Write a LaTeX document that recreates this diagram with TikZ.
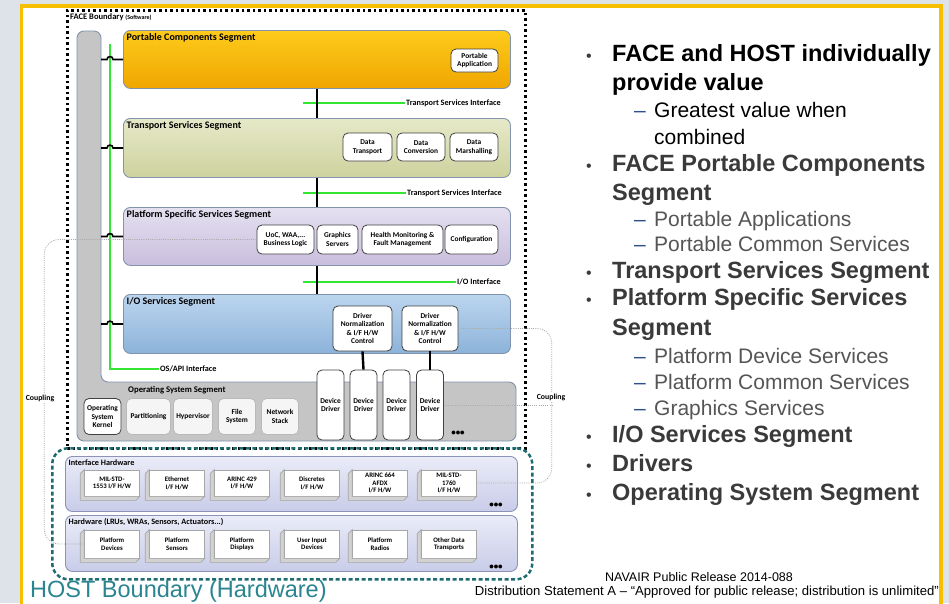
\documentclass[tikz,border=0pt]{standalone}
\usepackage{fontspec}
\setmainfont{Carlito}
\newfontfamily\arialfont{Liberation Sans}
\usetikzlibrary{calc}

\definecolor{bggray}{HTML}{DEE2E9}
\definecolor{frameorange}{HTML}{F6BF00}
\definecolor{segline}{HTML}{8193AE}
\definecolor{pcstop}{HTML}{FDCB1C}
\definecolor{pcsbottom}{HTML}{F0A600}
\definecolor{tsstop}{HTML}{E6E9C8}
\definecolor{tssbottom}{HTML}{CDD29E}
\definecolor{psstop}{HTML}{E5E0F0}
\definecolor{pssbottom}{HTML}{C9BEDD}
\definecolor{iostop}{HTML}{BCD5EF}
\definecolor{iosbottom}{HTML}{8CB3DA}
\definecolor{osgray}{HTML}{C5C5C5}
\definecolor{facegreen}{HTML}{33E633}
\definecolor{hostteal}{HTML}{1E6C70}
\definecolor{hosttext}{HTML}{2A8590}
\definecolor{hwtop}{HTML}{EAECF8}
\definecolor{hwbottom}{HTML}{C8CCE8}
\definecolor{hwline}{HTML}{8D93B8}
\definecolor{itemgray}{HTML}{3A3A3A}
\definecolor{subgray}{HTML}{555555}
\definecolor{dashblue}{HTML}{2F4F8A}

\begin{document}
\begin{tikzpicture}[x = 1pt, y = -1pt,
	seg/.style = {draw = segline, line width = 0.9, rounded corners = 7, anchor = north west, minimum width = 387},
	segtitle/.style = {font = \fontsize{10}{11}\selectfont\bfseries, inner sep = 3.5},
	comp/.style = {draw = black!75, fill = white, rounded corners = 5, line width = 0.8, align = center, inner sep = 0.5, font = \fontsize{7.4}{8.6}\selectfont\bfseries},
	oscomp/.style = {comp, draw = gray!55, fill = gray!8},
	hwbox/.style = {draw = gray!70, fill = white, line width = 0.6, align = center, inner sep = 0.5, minimum width = 55, minimum height = 26, font = \fontsize{6.8}{7.6}\selectfont\bfseries},
	hwside/.style = {draw = gray!70, fill = gray!35, line width = 0.6},
	hwgroup/.style = {draw = hwline, line width = 0.9, rounded corners = 7, anchor = north west, minimum width = 452, top color = hwtop, bottom color = hwbottom},
	iflabel/.style = {font = \fontsize{8.2}{9}\selectfont\bfseries, inner sep = 1, anchor = west},
	greenline/.style = {draw = facegreen, line width = 2},
	ifline/.style = {draw = black, line width = 2.4},
	bridge/.style = {draw = black, line width = 1.6},
	couple/.style = {draw = gray!65, line width = 0.8, dash pattern = on 1pt off 1.2pt},
	couplelbl/.style = {fill = white, inner sep = 1, font = \fontsize{7.8}{8}\selectfont\bfseries},
	moredots/.style = {inner sep = 0, font = \fontsize{9}{9}\selectfont\bfseries},
	mainitem/.style = {anchor = base west, inner sep = 0, font = \arialfont\bfseries\fontsize{23.5}{26}\selectfont},
	subitem/.style = {anchor = base west, inner sep = 0, font = \arialfont\fontsize{21}{24}\selectfont},
	notetext/.style = {inner sep = 0, font = \arialfont\fontsize{12.5}{13}\selectfont}]

	% Page and frame

	\useasboundingbox (0, 0) rectangle (949, 603);
	\fill [bggray] (0, 0) rectangle (949, 603);
	\fill [white] (21.5, 6) rectangle (941, 615);
	\draw [frameorange, line width = 3.5] (21.5, 615) -- (21.5, 6) -- (941, 6) -- (941, 615);

	% FACE boundary

	\node [draw, line width = 2.5, dash pattern = on 2.5pt off 3pt, anchor = north west, minimum width = 458, minimum height = 438] (face) at (66, 9) {};
	\node [anchor = west, inner sep = 1, font = \fontsize{8.5}{9}\selectfont\bfseries] (facelbl) at (69, 17) {FACE Boundary {\fontsize{6}{6}\selectfont(Software)}};

	% Operating system segment (L shape)

	\draw [fill = osgray, draw = segline, line width = 0.9, rounded corners = 7] (77, 31) -- (101, 31) -- (101, 382) -- (516, 382) -- (516, 441) -- (77, 441) -- cycle;
	\node [anchor = west, inner sep = 0, font = \fontsize{8.7}{9}\selectfont\bfseries] (oslbl) at (128, 390) {Operating System Segment};

	% Segments

	\node [seg, minimum height = 58, top color = pcstop, bottom color = pcsbottom, label = {[segtitle, anchor = north west]north west:Portable Components Segment}] (pcs) at (123, 30) {};
	\node [seg, minimum height = 59, top color = tsstop, bottom color = tssbottom, label = {[segtitle, anchor = north west]north west:Transport Services Segment}] (tss) at (123, 118) {};
	\node [seg, minimum height = 58, top color = psstop, bottom color = pssbottom, label = {[segtitle, anchor = north west]north west:Platform Specific Services Segment}] (pss) at (123, 207) {};
	\node [seg, minimum height = 59, top color = iostop, bottom color = iosbottom, label = {[segtitle, anchor = north west]north west:I/O Services Segment}] (ios) at (123, 294) {};

	% Components inside the segments

	\node [comp, minimum width = 47, minimum height = 23] (pa) at (474.5, 60.5) {Portable\\Application};
	\node [comp, minimum width = 49, minimum height = 28] (dt) at (367.5, 147) {Data\\Transport};
	\node [comp, minimum width = 48, minimum height = 28] (dc) at (421, 147) {Data\\Conversion};
	\node [comp, minimum width = 48, minimum height = 28] (dm) at (474, 147) {Data\\Marshalling};
	\node [comp, minimum width = 57, minimum height = 29] (uoc) at (285.5, 239.5) {UoC, WAA,...\\Business Logic};
	\node [comp, minimum width = 41, minimum height = 29] (gs) at (337.5, 239.5) {Graphics\\Servers};
	\node [comp, minimum width = 81, minimum height = 29] (hm) at (402.5, 239.5) {Health Monitoring \&\\Fault Management};
	\node [comp, minimum width = 53, minimum height = 29] (cfg) at (471.5, 239.5) {Configuration};
	\node [comp, minimum width = 59, minimum height = 45] (drv1) at (362.5, 328.5) {Driver\\Normalization\\\& I/F H/W\\Control};
	\node [comp, minimum width = 56, minimum height = 45] (drv2) at (430, 328.5) {Driver\\Normalization\\\& I/F H/W\\Control};

	% Operating system components and device drivers

	\node [comp, minimum width = 37, minimum height = 36] (kernel) at (102.5, 416.5) {Operating\\System\\Kernel};
	\foreach \n/\x/\w/\t in {part/148.5/44/Partitioning, hyp/193/39/Hypervisor, fs/237/37/{File\\System}, net/280/37/{Network\\Stack}}
		\node [oscomp, minimum width = \w, minimum height = 36] (\n) at (\x, 416.5) {\t};
	\foreach \n/\x in {dd1/330.5, dd2/363.5, dd3/396.5, dd4/430}
		\node [comp, minimum width = 27, minimum height = 70] (\n) at (\x, 405) {Device\\Driver};
	\node [moredots] (osdots) at (458, 433) {•••};

	% Interfaces

	\node [iflabel] (tsi1) at (405, 103) {Transport Services Interface};
	\node [iflabel] (tsi2) at (406, 193) {Transport Services Interface};
	\node [iflabel] (ioi) at (456, 282) {I/O Interface};
	\node [iflabel] (osapi) at (159, 369) {OS/API Interface};
	\coordinate (gtop) at (110, 44);

	\draw [greenline] (tsi1.west) -- ++(-102, 0);
	\draw [greenline] (tsi2.west) -- ++(-103, 0);
	\draw [greenline] (ioi.west) -- ++(-153, 0);
	\draw [greenline] (gtop) |- (osapi.west);

	\draw [ifline] (pcs.south) -- (tss.north);
	\draw [ifline] (tss.south) -- (pss.north);
	\draw [ifline] (pss.south) -- (ios.north);
	\draw [ifline] (drv1.south) -- (dd2.north);
	\draw [ifline] (drv2.south) -- (dd4.north);

	\foreach \s in {pcs, tss, pss, ios}
		\draw [bridge] (\s.west) -- ++(-10, 0) to [out = 90, in = 90, looseness = 1.6] ++(-6, 0) -- ++(-6, 0);

	% HOST boundary and hardware

	\node [hwgroup, minimum height = 55, label = {[segtitle, font = \fontsize{8.2}{9}\selectfont\bfseries, anchor = north west]north west:Interface Hardware}] (ihw) at (65, 456) {};
	\node [hwgroup, minimum height = 56, label = {[segtitle, font = \fontsize{8.2}{9}\selectfont\bfseries, anchor = north west]north west:Hardware (LRUs, WRAs, Sensors, Actuators...)}] (hw) at (65, 515) {};

	\foreach \n/\x/\t in {ih1/112/{MIL-STD-\\1553 I/F H/W}, ih2/177/{Ethernet\\I/F H/W}, ih3/242/{ARINC 429\\I/F H/W}, ih4/312/{Discretes\\I/F H/W}, ih5/380/{ARINC 664\\AFDX\\I/F H/W}, ih6/449/{MIL-STD-\\1760\\I/F H/W}}
	{
		\node [hwbox] (\n) at (\x, 483) {\t};
		\draw [hwside] (\n.north west) -- ++(-4, 4) |- ($(\n.south east) + (-4, 4)$) -- (\n.south east) -- (\n.south west) -- cycle;
	}
	\foreach \n/\x/\t in {hw1/112/{Platform\\Devices}, hw2/177/{Platform\\Sensors}, hw3/242/{Platform\\Displays}, hw4/312/{User Input\\Devices}, hw5/380/{Platform\\Radios}, hw6/449/{Other Data\\Transports}}
	{
		\node [hwbox, minimum height = 28] (\n) at (\x, 544) {\t};
		\draw [hwside] (\n.north west) -- ++(-4, 4) |- ($(\n.south east) + (-4, 4)$) -- (\n.south east) -- (\n.south west) -- cycle;
	}
	\node [moredots] (ihdots) at (496, 505) {•••};
	\node [moredots] (hwdots) at (496, 567) {•••};

	\node [draw = hostteal, line width = 2.5, dash pattern = on 4pt off 2.5pt, rounded corners = 16, anchor = north west, minimum width = 480, minimum height = 131] (host) at (51, 447) {};
	\node [anchor = base west, inner sep = 0, text = hosttext, font = \arialfont\fontsize{23.5}{24}\selectfont] (hostlbl) at (30, 597) {HOST Boundary (Hardware)};

	% Coupling

	\draw [couple, rounded corners = 15] (uoc.west) -| ($(hw1.west) + (-40, 0)$) -- (hw1.west);
	\draw [couple, rounded corners = 15] (drv2.east) -| ($(ih6.east) + (75, 0)$) -- (ih6.east);
	\draw [couple] (dd4.east) -- ++(110, 0);
	\node [couplelbl] (cpl1) at (40, 398) {Coupling};
	\node [couplelbl] (cpl2) at (551, 397) {Coupling};

	% Bullet list

	\foreach \y/\t/\c [count = \i] in {61.7/{FACE and HOST individually}/black, 90.7/{provide value}/black, 171.7/{FACE Portable Components}/itemgray, 200/Segment/itemgray, 278/{Transport Services Segment}/itemgray, 305/{Platform Specific Services}/itemgray, 335/Segment/itemgray, 442.7/{I/O Services Segment}/itemgray, 471.7/Drivers/itemgray, 500/{Operating System Segment}/itemgray}
		\node [mainitem, text = \c] (main\i) at (612, \y) {\t};
	\foreach \n in {1, 3, 5, 6, 8, 9, 10}
		\node [anchor = base east, inner sep = 0, text = itemgray, font = \arialfont\fontsize{16}{16}\selectfont] (dot\n) at ($(main\n.base west) + (-20, 0)$) {•};

	\foreach \y/\t/\c [count = \i] in {117.7/{Greatest value when}/black, 144/combined/black, 226/{Portable Applications}/subgray, 251.7/{Portable Common Services}/subgray, 363/{Platform Device Services}/subgray, 389/{Platform Common Services}/subgray, 415/{Graphics Services}/subgray}
		\node [subitem, text = \c] (sub\i) at (654, \y) {\t};
	\foreach \n in {1, 3, 4, 5, 6, 7}
		\node [subitem, anchor = base east, text = dashblue] (dash\n) at ($(sub\n.base west) + (-8, 0)$) {–};

	% Release note

	\node [notetext, anchor = base] (release) at (699, 581) {NAVAIR Public Release 2014-088};
	\node [notetext, anchor = base east, font = \arialfont\fontsize{13.1}{14}\selectfont] (distrib) at (939, 595) {Distribution Statement A – “Approved for public release; distribution is unlimited”};

\end{tikzpicture}
\end{document}
